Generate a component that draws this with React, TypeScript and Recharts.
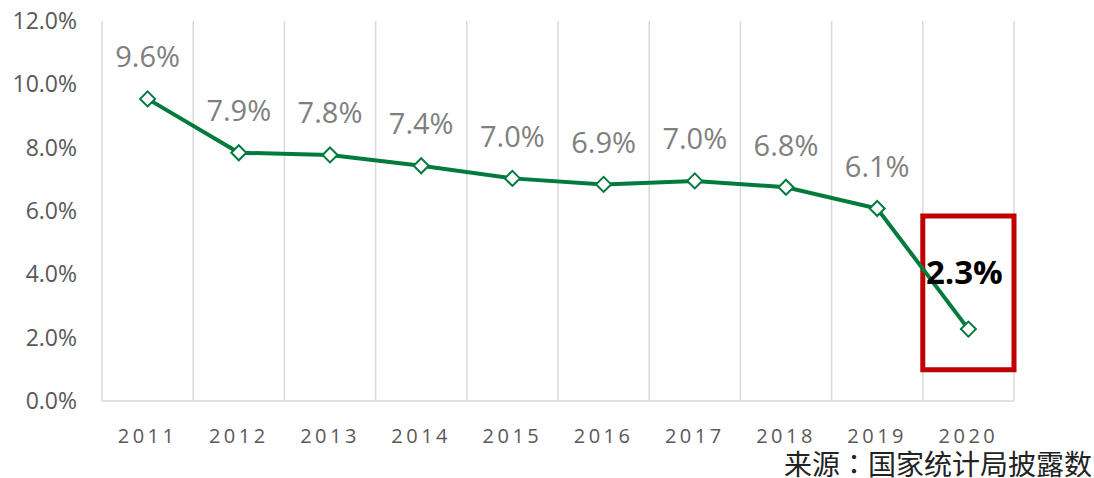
import React from 'react';
import { LineChart, Line, XAxis, YAxis, CartesianGrid, LabelList, ReferenceArea } from 'recharts';

const years = ['2011', '2012', '2013', '2014', '2015', '2016', '2017', '2018', '2019', '2020'];
const growth = [9.54, 7.84, 7.77, 7.43, 7.03, 6.84, 6.95, 6.75, 6.08, 2.27];
const growthLabels = ['9.6%', '7.9%', '7.8%', '7.4%', '7.0%', '6.9%', '7.0%', '6.8%', '6.1%', '2.3%'];
const yTicks = [0, 2, 4, 6, 8, 10, 12];
const highlightYear = '2020';
const highlightRange = [0.99, 5.84];
const sourcePrefix = '来源';
const sourceColon = '：';
const sourceBody = '国家统计局披露数';

const data = years.map((y, i) => ({ year: y, value: growth[i], label: growthLabels[i] }));

const GREEN = '#007A3D';
const FONT = '"Open Sans", "Noto Sans", sans-serif';

const Diamond = (props: any) => {
  const { cx, cy } = props;
  if (cx == null || cy == null) return null;
  const r = 7.5;
  return (
    <polygon
      points={`${cx},${cy - r} ${cx + r},${cy} ${cx},${cy + r} ${cx - r},${cy}`}
      fill="#fff"
      stroke={GREEN}
      strokeWidth={2}
    />
  );
};

const DataLabel = (props: any) => {
  const { x, y, width, value, index } = props;
  const last = index === years.length - 1;
  const cx = x + (width || 0) / 2;
  return (
    <text
      x={last ? cx - 4 : cx}
      y={last ? y - 58 : y - 43}
      textAnchor="middle"
      dominantBaseline="central"
      fontFamily={FONT}
      fontSize={last ? 33 : 29}
      fontWeight={last ? 700 : 400}
      fill={last ? '#000' : '#7F7F7F'}
    >
      {value}
    </text>
  );
};

export default function App() {
  return (
    <div style={{ position: 'absolute', left: 0, top: 0, width: 1094, height: 478, background: '#fff', overflow: 'hidden' }}>
      <LineChart width={1094} height={478} data={data} margin={{ top: 21, right: 80, bottom: 27, left: 0 }}>
        <CartesianGrid
          horizontal={false}
          stroke="#D9D9D9"
          strokeWidth={1.5}
          verticalCoordinatesGenerator={({ offset }: any) =>
            years.map((_, i) => offset.left + (i * offset.width) / years.length).concat([offset.left + offset.width])
          }
        />
        <XAxis
          dataKey="year"
          scale="band"
          axisLine={{ stroke: '#D9D9D9', strokeWidth: 1.5 }}
          tickLine={false}
          tickMargin={22}
          height={50}
          tick={{ fill: '#595959', fontSize: 20, fontFamily: FONT, letterSpacing: 3.5 } as any}
        />
        <YAxis
          width={102}
          domain={[0, 12]}
          ticks={yTicks}
          axisLine={false}
          tickLine={false}
          tickMargin={19}
          tickFormatter={(v: number) => v.toFixed(1) + '%'}
          tick={{ fill: '#595959', fontSize: 23, fontFamily: FONT }}
        />
        <ReferenceArea
          x1={highlightYear}
          x2={highlightYear}
          y1={highlightRange[0]}
          y2={highlightRange[1]}
          fill="none"
          fillOpacity={0}
          stroke="#C00000"
          strokeWidth={5}
          ifOverflow="visible"
        />
        <Line
          type="linear"
          dataKey="value"
          stroke={GREEN}
          strokeWidth={4}
          dot={<Diamond />}
          activeDot={false}
          isAnimationActive={false}
        >
          <LabelList dataKey="label" content={<DataLabel />} />
        </Line>
      </LineChart>
      <div
        style={{
          position: 'absolute',
          right: 2,
          top: 449,
          fontFamily: '"Noto Sans CJK SC", sans-serif',
          fontSize: 28,
          lineHeight: '28px',
          color: '#222',
          whiteSpace: 'nowrap',
        }}
      >
        {sourcePrefix}
        <span style={{ fontFamily: '"Noto Sans CJK TC", sans-serif' }}>{sourceColon}</span>
        {sourceBody}
      </div>
    </div>
  );
}
